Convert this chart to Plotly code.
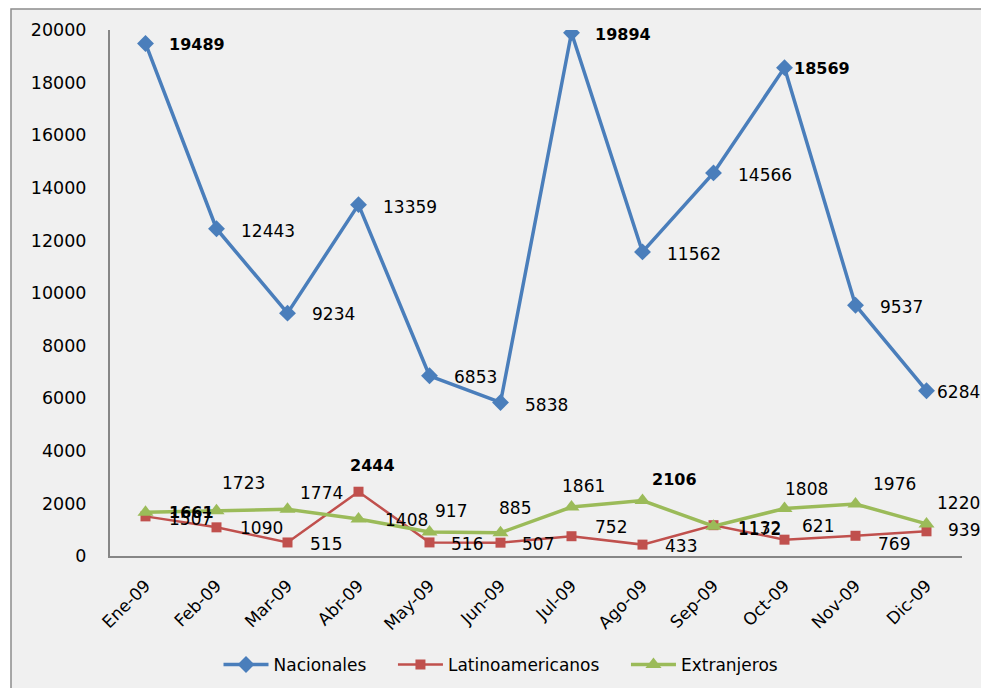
import plotly.graph_objects as go

months = ["Ene-09", "Feb-09", "Mar-09", "Abr-09", "May-09", "Jun-09",
          "Jul-09", "Ago-09", "Sep-09", "Oct-09", "Nov-09", "Dic-09"]
nacionales = [19489, 12443, 9234, 13359, 6853, 5838, 19894, 11562, 14566, 18569, 9537, 6284]
latinoamericanos = [1507, 1090, 515, 2444, 516, 507, 752, 433, 1172, 621, 769, 939]
extranjeros = [1661, 1723, 1774, 1408, 917, 885, 1861, 2106, 1132, 1808, 1976, 1220]
y_ticks = [0, 2000, 4000, 6000, 8000, 10000, 12000, 14000, 16000, 18000, 20000]

# label styling (positions as pixel offsets from each point, bold flags)
nac_off = [(21, -1), (22, -2), (22, -1), (22, -2), (22, -1), (22, -3), (21, -2), (22, -2), (22, -2), (7, -1), (22, -2), (8, -1)]
nac_bold = [True, False, False, False, False, False, True, False, False, True, False, False]
lat_off = [(21, -3), (21, -1), (20, -2), (-11, 26), (19, -2), (19, -1), (21, 9), (20, -1), (22, -4), (15, 14), (20, -8), (19, 1)]
lat_bold = [False, False, False, True, False, False, False, False, False, False, False, False]
ext_off = [(21, 0), (3, 28), (10, 16), (24, -1), (3, 21), (-4, 25), (-12, 21), (7, 21), (22, -2), (-2, 19), (15, 20), (8, 21)]
ext_bold = [True, False, False, False, False, False, False, True, False, False, False, False]

BLUE, RED, GREEN = "#4a7ebb", "#c0504d", "#9bbb59"
FONT = "DejaVu Sans"
PAD = "&nbsp;" * 4

fig = go.Figure()
fig.add_trace(go.Scatter(x=months, y=nacionales, name="Nacionales" + PAD, mode="lines+markers",
                         line=dict(color=BLUE, width=3.5),
                         marker=dict(symbol="diamond", size=13, color=BLUE)))
fig.add_trace(go.Scatter(x=months, y=latinoamericanos, name="Latinoamericanos" + PAD, mode="lines+markers",
                         line=dict(color=RED, width=2.5),
                         marker=dict(symbol="square", size=10, color=RED)))
fig.add_trace(go.Scatter(x=months, y=extranjeros, name="Extranjeros", mode="lines+markers",
                         line=dict(color=GREEN, width=3.5),
                         marker=dict(symbol="triangle-up", size=14, color=GREEN)))

annotations = []
for series, offs, bolds in [(nacionales, nac_off, nac_bold),
                            (latinoamericanos, lat_off, lat_bold),
                            (extranjeros, ext_off, ext_bold)]:
    for m, v, (dx, dy), b in zip(months, series, offs, bolds):
        annotations.append(dict(
            x=m, y=v, xref="x", yref="y", text=f"<b>{v}</b>" if b else str(v),
            showarrow=False, xanchor="left", yanchor="middle",
            xshift=dx, yshift=dy,
            font=dict(family=FONT, size=16 if b else 17, color="#000000")))

W, H = 981, 688
L, R, T, B = 110, 19, 30, 132
pw, ph = W - L - R, H - T - B

fig.update_layout(
    width=W, height=H,
    margin=dict(l=L, r=R, t=T, b=B, autoexpand=False),
    paper_bgcolor="white",
    plot_bgcolor="rgba(0,0,0,0)",
    showlegend=True,
    legend=dict(orientation="h", x=(501 - L) / pw, xanchor="center",
                y=(H - B - 665) / ph, yanchor="middle",
                font=dict(family=FONT, size=17, color="#000000"),
                itemwidth=45, bgcolor="rgba(0,0,0,0)", traceorder="normal"),
    annotations=annotations,
    shapes=[dict(type="rect", xref="paper", yref="paper", layer="below",
                 x0=(11 - L) / pw, x1=(W + 10 - L) / pw,
                 y0=(H - B - (H + 10)) / ph, y1=(H - B - 9) / ph,
                 fillcolor="#f0f0f0", line=dict(color="#8c8c8c", width=1.5))],
)
fig.update_xaxes(type="category", tickangle=-45, showgrid=False, showline=True,
                 linecolor="#868686", linewidth=2,
                 ticks="outside", ticklen=11, tickcolor="rgba(0,0,0,0)",
                 tickfont=dict(family=FONT, size=17, color="#000000"),
                 range=[-0.5, len(months) - 0.5])
fig.update_yaxes(range=[0, 20000], tickvals=y_ticks, ticktext=[str(t) for t in y_ticks],
                 showgrid=False, showline=True, linecolor="#868686", linewidth=2,
                 ticks="outside", ticklen=18, tickcolor="rgba(0,0,0,0)", zeroline=False,
                 tickfont=dict(family=FONT, size=17.5, color="#000000"))

fig.write_html("out.html", config={"displayModeBar": False},
               post_script="document.body.style.margin='0';document.body.style.overflow='hidden';")
